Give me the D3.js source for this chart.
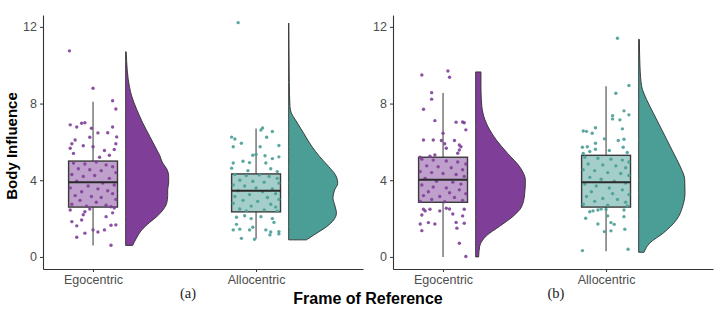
<!DOCTYPE html>
<html>
<head>
<meta charset="utf-8">
<script src="https://cdn.jsdelivr.net/npm/d3@7"></script>
<style>
  body { margin: 0; background: #fff; }
  text { font-family: "Liberation Sans", Arial, sans-serif; }
</style>
</head>
<body>
<div id="chart"></div>
<script>
const categories = ["Egocentric", "Allocentric"];
const yTicks = [0, 4, 8, 12];
const panelLabels = ["(a)", "(b)"];

// box stats: [lower whisker, q1, median, q3, upper whisker]
const boxA_ego = [0.6, 2.6, 3.9, 5.0, 8.1];
const boxA_allo = [0.95, 2.35, 3.45, 4.33, 6.7];
const boxB_ego = [0.0, 2.85, 4.03, 5.2, 8.55];
const boxB_allo = [0.3, 2.6, 3.9, 5.3, 8.9];

// half violin density: [value, density]
const densA_ego = [[0.6,0.035],[1.0,0.055],[1.4,0.08],[1.8,0.12],[2.1,0.155],[2.5,0.19],[2.8,0.205],[3.2,0.21],[3.5,0.21],[3.9,0.215],[4.2,0.215],[4.6,0.205],[4.9,0.185],[5.3,0.17],[5.6,0.155],[6.3,0.12],[7.0,0.085],[7.7,0.055],[8.4,0.03],[9.3,0.0125],[10.2,0.005],[10.7,0.0025]];
const densA_allo = [[0.89,0.0885],[1.24,0.14],[1.58,0.19],[1.93,0.225],[2.28,0.2385],[2.71,0.23],[3.06,0.2215],[3.5,0.23],[3.84,0.245],[4.28,0.2335],[4.71,0.2],[5.23,0.155],[5.75,0.1165],[6.45,0.075],[7.15,0.0335],[7.5,0.0135],[7.84,0.0065],[9.1,0.003],[10.8,0.0015],[12.2,0.0005]];
const densB_ego = [[0,0.015],[0.55,0.02],[1.1,0.0535],[1.6,0.12],[2.1,0.185],[2.6,0.2285],[3.3,0.245],[4.0,0.2485],[4.7,0.22],[5.4,0.16],[6.1,0.1035],[6.8,0.0615],[7.5,0.0365],[8.2,0.0285],[8.9,0.0265],[9.65,0.0265]];
const densB_allo = [[0.24,0.0265],[0.72,0.055],[1.25,0.1235],[1.95,0.19],[2.65,0.22],[3.35,0.2315],[4.04,0.23],[4.74,0.2065],[5.43,0.1735],[6.13,0.14],[6.82,0.1065],[7.5,0.0735],[8.2,0.04],[8.9,0.015],[9.95,0.0065],[11.35,0.0035]];

// raw points: [jitter, value]
const ptsA_ego = [[-0.145,10.75],[0.0,8.8],[0.12,8.15],[0.14,7.72],[-0.14,6.89],[-0.10,6.78],[-0.07,6.97],[-0.05,7.0],[-0.01,6.71],[0.03,6.47],[0.09,6.48],[0.12,6.78],[-0.11,6.1],[-0.02,6.24],[0.145,6.26],[0.14,5.9],[-0.14,5.67],[-0.06,5.8],[0.0,5.75],[-0.13,5.9],[0.07,5.55],[0.1,5.3],[-0.12,5.4],[0.04,5.2],[0.13,5.6],
  [-0.12,4.9],[-0.05,4.85],[0.02,4.95],[0.08,4.8],[0.12,4.7],[-0.09,4.6],[-0.02,4.55],[0.05,4.5],[0.14,4.4],[-0.13,4.3],[-0.06,4.2],[0.01,4.25],[0.1,4.1],[-0.1,3.95],[0.06,3.85],[0.13,3.75],[-0.03,3.7],[-0.14,3.6],[0.03,3.55],[0.09,3.45],[-0.07,3.4],[0.12,3.3],[-0.11,3.2],[-0.01,3.15],[0.05,3.1],[0.14,3.0],[-0.08,2.95],[0.02,2.85],[-0.13,2.75],[0.08,2.7],[-0.04,2.65],[0.11,2.62],
  [-0.14,2.45],[-0.05,2.36],[-0.06,2.2],[0.08,2.1],[0.12,2.3],[-0.07,1.93],[-0.13,1.84],[-0.1,1.62],[0.0,1.41],[0.07,1.41],[0.11,1.65],[-0.1,1.03],[-0.05,1.24],[0.03,1.3],[0.14,1.67],[0.11,0.61],[0.13,2.55],[-0.02,2.5]];
const ptsA_allo = [[-0.11,12.22],[0.04,6.73],[0.03,6.62],[0.1,6.54],[-0.15,6.25],[-0.13,6.15],[0.065,6.24],[-0.09,5.93],[-0.14,5.75],[0.025,5.75],[0.14,5.81],[-0.02,5.3],[0.0,5.35],[0.055,5.28],[0.1,5.13],[0.14,5.22],[-0.14,4.9],[-0.08,4.99],[-0.04,4.92],[0.06,4.9],[-0.15,4.63],[0.09,4.6],[-0.05,4.5],[0.13,4.45],
  [-0.13,4.3],[-0.06,4.25],[0.02,4.28],[0.08,4.2],[0.13,4.1],[-0.1,4.0],[-0.02,3.95],[0.05,3.9],[0.14,3.85],[-0.14,3.75],[-0.07,3.7],[0.0,3.6],[0.1,3.55],[-0.11,3.45],[0.04,3.4],[0.12,3.3],[-0.04,3.25],[-0.13,3.15],[0.07,3.1],[0.14,3.0],[-0.08,2.95],[0.01,2.9],[-0.14,2.8],[0.09,2.75],[-0.03,2.65],[0.12,2.6],[-0.1,2.5],[0.05,2.45],[-0.06,2.4],[0.13,2.38],
  [-0.12,2.07],[-0.07,2.15],[-0.03,2.0],[0.03,2.1],[0.1,2.0],[-0.14,1.41],[-0.1,1.45],[-0.04,1.41],[-0.02,1.55],[0.06,1.41],[0.09,1.3],[0.14,1.32],[0.14,1.2],[-0.09,0.97],[-0.01,0.92],[0.085,1.15],[-0.12,1.7],[0.11,1.8]];
const ptsB_ego = [[-0.13,9.49],[0.03,9.7],[0.04,9.37],[-0.07,8.57],[-0.07,8.23],[-0.12,7.7],[-0.05,7.11],[0.08,7.03],[0.12,7.04],[0.13,7.0],[0.14,6.63],[0.0,6.45],[-0.12,6.1],[-0.06,6.1],[-0.01,6.07],[0.07,6.07],[0.01,5.9],[0.1,5.84],[0.11,5.75],[0.02,5.67],[0.1,5.58],[0.09,5.41],[-0.05,5.32],[-0.14,5.2],[-0.08,5.25],
  [-0.13,5.1],[-0.06,5.05],[0.02,5.0],[0.09,4.95],[0.14,4.85],[-0.1,4.75],[-0.03,4.7],[0.05,4.65],[0.12,4.55],[-0.14,4.45],[-0.07,4.4],[0.0,4.35],[0.08,4.3],[0.13,4.2],[-0.11,4.1],[-0.04,3.95],[0.06,3.9],[0.11,3.8],[-0.13,3.75],[-0.06,3.65],[0.02,3.6],[0.1,3.5],[-0.09,3.4],[0.04,3.35],[0.14,3.3],[-0.12,3.2],[-0.02,3.15],[0.07,3.1],[-0.07,3.0],[0.12,2.95],[-0.14,2.9],[0.01,2.88],
  [-0.12,2.49],[-0.11,2.4],[-0.08,2.49],[-0.13,2.19],[-0.02,2.4],[0.02,2.54],[0.04,2.5],[0.06,2.24],[0.13,2.49],[0.12,2.14],[-0.14,1.72],[-0.09,1.79],[-0.05,1.72],[0.08,1.8],[0.13,1.76],[-0.13,1.37],[0.085,1.5],[0.1,0.71],[0.14,0.02]];
const ptsB_allo = [[0.07,11.41],[0.14,8.94],[0.06,8.54],[0.11,7.62],[0.04,7.37],[0.085,7.15],[0.04,7.2],[0.14,7.41],[0.1,6.68],[-0.14,6.57],[-0.12,6.55],[-0.085,6.45],[-0.065,6.74],[0.11,6.14],[-0.01,6.16],[0.075,6.07],[-0.065,5.93],[-0.145,5.72],[-0.115,5.75],[-0.065,5.62],[0.105,5.72],[0.02,5.55],[0.13,5.45],[-0.14,5.4],[-0.1,5.5],
  [-0.13,5.2],[-0.05,5.15],[0.03,5.1],[0.1,5.05],[0.14,4.95],[-0.11,4.85],[-0.02,4.8],[0.06,4.75],[0.12,4.65],[-0.14,4.55],[-0.07,4.5],[0.01,4.4],[0.09,4.35],[0.14,4.25],[-0.1,4.15],[-0.03,4.05],[0.05,3.95],[0.12,3.85],[-0.13,3.8],[-0.06,3.7],[0.02,3.6],[0.1,3.5],[-0.09,3.4],[0.04,3.3],[0.14,3.25],[-0.12,3.15],[-0.02,3.05],[0.07,3.0],[-0.07,2.9],[0.12,2.85],[-0.14,2.75],[0.01,2.7],
  [-0.05,2.45],[-0.1,2.36],[-0.08,2.4],[-0.03,2.5],[0.0,2.48],[0.11,2.45],[0.13,2.66],[-0.125,2.02],[-0.05,1.72],[0.03,1.79],[0.05,1.7],[0.11,2.1],[0.01,2.14],[-0.01,1.32],[0.03,1.36],[0.115,1.44],[-0.145,0.33],[0.135,0.4]];

const colors = ["#7f3f98", "#4a9e96"];

const panels = [
  { left: 43, right: 363, label: panelLabels[0], labelX: 188, groups: [
    { box: boxA_ego, dens: densA_ego, pts: ptsA_ego },
    { box: boxA_allo, dens: densA_allo, pts: ptsA_allo }] },
  { left: 393, right: 713, label: panelLabels[1], labelX: 556, groups: [
    { box: boxB_ego, dens: densB_ego, pts: ptsB_ego },
    { box: boxB_allo, dens: densB_allo, pts: ptsB_allo }] }
];

const width = 718, height = 309;
const plotTop = 15, plotBottom = 269;

const svg = d3.select("#chart").append("svg")
  .attr("width", width)
  .attr("height", height);

const y = d3.scaleLinear().domain([-0.63, 12.62]).range([plotBottom, plotTop]);
const densScale = d3.scaleLinear().domain([0, 0.25]).range([0, 0.307]);
const boxHalf = 0.15, violinGap = 0.2;

panels.forEach(function (p) {
  const x = d3.scaleLinear().domain([0.693, 2.656]).range([p.left, p.right]);
  const g = svg.append("g");

  p.groups.forEach(function (grp, i) {
    const c = i + 1;
    const col = colors[i];
    const b = grp.box;

    // half violin
    const v0 = c + violinGap;
    const area = d3.area()
      .y(d => y(d[0]))
      .x0(x(v0))
      .x1(d => x(v0 + densScale(d[1])))
      .curve(d3.curveMonotoneY);
    g.append("path")
      .datum(grp.dens)
      .attr("d", area)
      .attr("fill", col)
      .attr("stroke", "#2f2f2f")
      .attr("stroke-width", 0.9);

    // whiskers
    g.append("line")
      .attr("x1", x(c)).attr("x2", x(c))
      .attr("y1", y(b[0])).attr("y2", y(b[1]))
      .attr("stroke", "#555").attr("stroke-width", 1.2);
    g.append("line")
      .attr("x1", x(c)).attr("x2", x(c))
      .attr("y1", y(b[3])).attr("y2", y(b[4]))
      .attr("stroke", "#555").attr("stroke-width", 1.2);

    // box
    g.append("rect")
      .attr("x", x(c - boxHalf))
      .attr("width", x(c + boxHalf) - x(c - boxHalf))
      .attr("y", y(b[3]))
      .attr("height", y(b[1]) - y(b[3]))
      .attr("fill", col).attr("fill-opacity", 0.5)
      .attr("stroke", "#3a3a3a").attr("stroke-width", 1.4);

    // jittered points
    g.selectAll(null)
      .data(grp.pts)
      .enter().append("circle")
      .attr("cx", d => x(c + d[0]))
      .attr("cy", d => y(d[1]))
      .attr("r", 1.7)
      .attr("fill", col)
      .attr("opacity", 0.9);

    // median
    g.append("line")
      .attr("x1", x(c - boxHalf)).attr("x2", x(c + boxHalf))
      .attr("y1", y(b[2])).attr("y2", y(b[2]))
      .attr("stroke", "#2a2a2a").attr("stroke-width", 2);
  });

  // axes
  const yAxis = g.append("g")
    .attr("transform", "translate(" + p.left + ",0)")
    .call(d3.axisLeft(y).tickValues(yTicks).tickSize(3).tickSizeOuter(0).tickPadding(3));
  const xAxis = g.append("g")
    .attr("transform", "translate(0," + plotBottom + ")")
    .call(d3.axisBottom(x).tickValues([1, 2]).tickFormat((d, i) => categories[i])
      .tickSize(3).tickSizeOuter(0).tickPadding(3));

  [yAxis, xAxis].forEach(function (ax) {
    ax.select(".domain").attr("stroke", "#333").attr("stroke-width", 1.1);
    ax.selectAll(".tick line").attr("stroke", "#333");
    ax.selectAll(".tick text")
      .attr("fill", "#4d4d4d")
      .style("font-size", "12.5px")
      .style("font-family", "'Liberation Sans', Arial, sans-serif");
  });

  // panel label
  svg.append("text")
    .attr("x", p.labelX)
    .attr("y", 298)
    .attr("text-anchor", "middle")
    .style("font-family", "'Liberation Serif', 'Times New Roman', serif")
    .style("font-size", "14.5px")
    .attr("fill", "#222")
    .text(p.label);
});

// axis titles
svg.append("text")
  .attr("transform", "translate(17,146) rotate(-90)")
  .attr("text-anchor", "middle")
  .style("font-size", "15px")
  .style("font-weight", "bold")
  .attr("fill", "#000")
  .text("Body Influence");

svg.append("text")
  .attr("x", 368)
  .attr("y", 304)
  .attr("text-anchor", "middle")
  .style("font-size", "16px")
  .style("font-weight", "bold")
  .attr("fill", "#000")
  .text("Frame of Reference");
</script>
</body>
</html>
